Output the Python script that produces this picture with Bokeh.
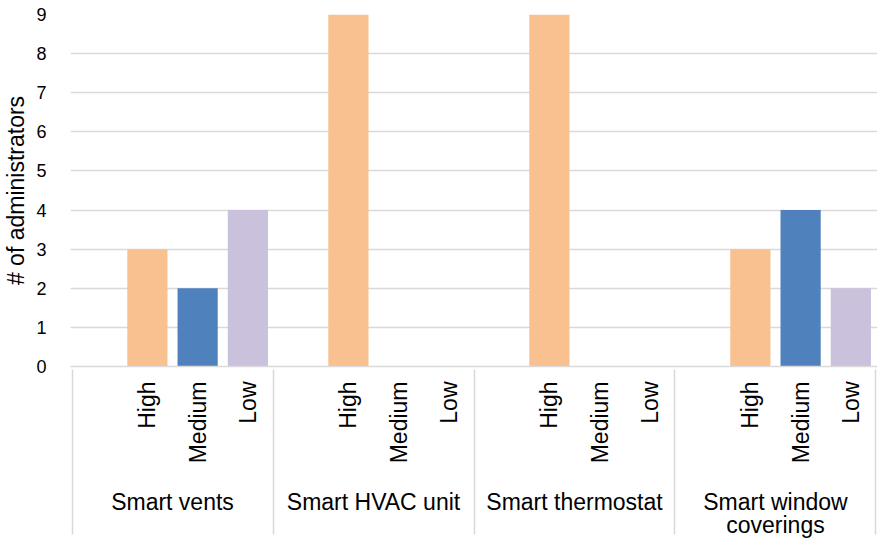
import math
from bokeh.plotting import figure
from bokeh.models import FactorRange, Range1d, ColumnDataSource, SingleIntervalTicker
from bokeh.embed import file_html
from bokeh.resources import INLINE

groups = ["Smart vents", "Smart HVAC unit", "Smart thermostat", "Smart window\ncoverings"]
levels = ["High", "Medium", "Low"]
high = [3, 9, 9, 3]
medium = [2, 0, 0, 4]
low = [4, 0, 0, 2]
level_colors = ["#F9C18F", "#4F81BD", "#CAC1DC"]

FONT = "Liberation Sans"
BLANK = " " * 14   # empty leading category slot (as in the source chart)

W, H = 877, 542
LEFT, TOP, BOTTOM = 70, 14, 176

# hidden, off-range edge groups so the axis draws separators on both outer edges
factors = [("", "")]
for g in groups:
    factors.append((g, BLANK))
    for l in levels:
        factors.append((g, l))
factors.append((" ", ""))

xs, tops, cols = [], [], []
for i, g in enumerate(groups):
    for l, vals, c in zip(levels, [high, medium, low], level_colors):
        xs.append((g, l))
        tops.append(vals[i])
        cols.append(c)

src = ColumnDataSource(dict(x=xs, top=tops, color=cols))

xr = FactorRange(*factors, group_padding=0, factor_padding=0,
                 range_padding=-0.97, range_padding_units="absolute")

p = figure(
    x_range=xr,
    y_range=Range1d(0, 9),
    width=W, height=H,
    output_backend="svg", toolbar_location=None,
    min_border_left=LEFT, min_border_right=0, min_border_top=TOP, min_border_bottom=BOTTOM,
)
p.outline_line_color = None
p.background_fill_color = "white"

p.vbar(x="x", top="top", width=0.8, color="color", source=src, line_color=None)

# y axis
p.yaxis.ticker = SingleIntervalTicker(interval=1)
p.yaxis.axis_line_color = None
p.yaxis.major_tick_line_color = None
p.yaxis.minor_tick_line_color = None
p.yaxis.major_tick_out = 0
p.yaxis.major_tick_in = 0
p.yaxis.major_label_text_font = FONT
p.yaxis.major_label_text_font_size = "18px"
p.yaxis.major_label_text_color = "#000000"
p.yaxis.major_label_standoff = 20
p.yaxis.axis_label = "# of administrators"
p.yaxis.axis_label_text_font = FONT
p.yaxis.axis_label_text_font_size = "23px"
p.yaxis.axis_label_text_font_style = "normal"
p.yaxis.axis_label_text_color = "#000000"
p.yaxis.axis_label_standoff = 4

p.ygrid.grid_line_color = "#D9D9D9"
p.ygrid.grid_line_width = 1.5
p.xgrid.grid_line_color = None

# x axis
xa = p.xaxis[0]
xa.axis_line_color = "#D9D9D9"
xa.axis_line_width = 1.5
xa.major_tick_line_color = None
xa.minor_tick_line_color = None
xa.major_tick_out = 0
xa.major_tick_in = 0
xa.major_label_standoff = 15
xa.major_label_text_font = FONT
xa.major_label_text_font_size = "23px"
xa.major_label_text_color = "#000000"
xa.subgroup_text_font = FONT
xa.subgroup_text_font_size = "22px"
xa.subgroup_text_font_style = "normal"
xa.subgroup_text_color = "#000000"
xa.subgroup_label_orientation = math.pi / 2
xa.group_text_font = FONT
xa.group_text_font_size = "23px"
xa.group_text_font_style = "normal"
xa.group_text_color = "#000000"
xa.group_text_line_height = 0.88
xa.major_label_orientation = math.pi / 2
xa.separator_line_color = "#D9D9D9"
xa.separator_line_width = 1.5

open("out.html", "w").write(file_html(p, INLINE))
